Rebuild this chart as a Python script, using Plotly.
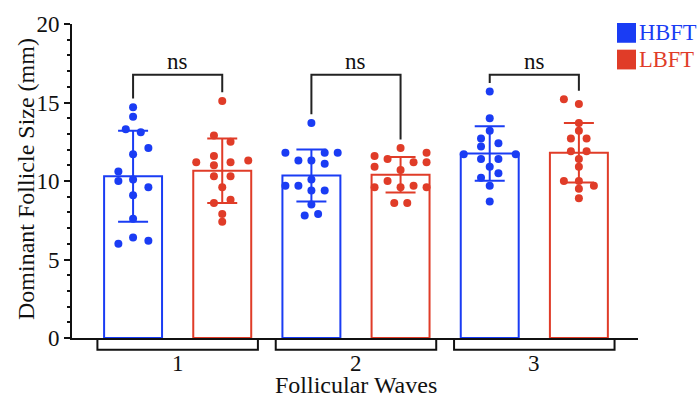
import numpy as np
import plotly.graph_objects as go

# ---------------- data ----------------
waves = ["1", "2", "3"]
groups = ["HBFT", "LBFT"]

hbft_mean = [10.3, 10.35, 11.75]
hbft_sd = [2.9, 1.65, 1.74]
lbft_mean = [10.65, 10.4, 11.8]
lbft_sd = [2.05, 1.13, 1.9]

hbft_w1 = [14.7, 14.1, 13.3, 13.1, 12.1, 11.7, 10.6, 10.0, 10.1, 9.6, 9.1, 7.6, 6.4, 6.0, 6.2]
lbft_w1 = [15.1, 12.9, 12.5, 11.6, 11.2, 11.0, 11.2, 11.3, 10.3, 10.3, 9.6, 8.6, 8.8, 7.9, 7.4]
hbft_w2 = [13.7, 11.8, 11.8, 11.8, 11.3, 11.3, 11.1, 10.1, 9.7, 9.7, 9.4, 9.4, 8.5, 7.8, 7.9]
lbft_w2 = [12.1, 11.6, 11.4, 11.8, 11.2, 11.2, 10.9, 10.7, 10.0, 9.7, 9.6, 9.6, 9.6, 8.6, 8.6]
hbft_w3 = [15.7, 14.0, 13.2, 12.7, 12.4, 12.2, 11.7, 11.7, 11.4, 11.4, 10.9, 10.5, 10.2, 9.7, 8.7]
lbft_w3 = [15.2, 14.9, 13.7, 13.2, 12.7, 12.7, 11.9, 11.9, 11.4, 10.9, 10.0, 10.0, 9.7, 9.5, 8.9]

sig_labels = ["ns", "ns", "ns"]

# ---------------- layout helpers (swarm offsets in px) ----------------
hbft_jit = [
    [0, 0, -7.3, 7.7, 15.3, 0, -14.7, -14.7, 0, 15.3, 0, 0, 0, -14.7, 15.3],
    [0, -26, 13.3, 26.3, -13, 0, 13.3, 0, -26, -13, 0, 13.3, 0, -6.7, 6.7],
    [0, 0, 0, -8.7, 8.7, -8.7, -26, 26, -8.7, 8.7, 0, 8.7, -8.7, 0, 0],
]
lbft_jit = [
    [0, -8.3, 8.3, -8.3, -26, -8.3, 8.3, 26, -8.3, 8.3, 0, -8.3, 8.3, 0, 0],
    [0, -26, -13, 26, 13, 26, -26, 0, -13, 13, -26, 0, 26, -6.3, 6.7],
    [-15, 0, 0, 0, -8, 7.7, -8, 7.7, 0, 0, -15, 0, 15, 0, 0],
]

BLUE = "#1a3cf4"
RED = "#e03c28"
INK = "#111111"
FONT = "Liberation Serif"
W, H = 699, 395
ML, MR, MT, MB = 72, 61, 20, 57
XMIN, XMAX = -0.685, 5.663
PX_PER_UNIT = (W - ML - MR) / (XMAX - XMIN)

hb_pts = [hbft_w1, hbft_w2, hbft_w3]
lb_pts = [lbft_w1, lbft_w2, lbft_w3]
hb_x = [2 * i for i in range(len(waves))]
lb_x = [2 * i + 1 for i in range(len(waves))]

fig = go.Figure()

for xs, means, sds, col, name in [
    (hb_x, hbft_mean, hbft_sd, BLUE, groups[0]),
    (lb_x, lbft_mean, lbft_sd, RED, groups[1]),
]:
    fig.add_trace(go.Bar(
        x=xs, y=means, width=0.65, name=name,
        marker=dict(color="rgba(255,255,255,0)", line=dict(color=col, width=2)),
        error_y=dict(type="data", array=sds, visible=True, color=col, thickness=2, width=15),
        showlegend=False,
    ))

for xs, pts, jits, col in [(hb_x, hb_pts, hbft_jit, BLUE), (lb_x, lb_pts, lbft_jit, RED)]:
    for xc, vals, jit in zip(xs, pts, jits):
        fig.add_trace(go.Scatter(
            x=[xc + j / PX_PER_UNIT for j in jit], y=vals, mode="markers",
            marker=dict(color=col, size=8, line=dict(width=0)),
            showlegend=False, hoverinfo="y",
        ))

shapes = []
annotations = []

# significance brackets
BR_Y = 16.76
for i in range(len(waves)):
    x0, x1 = hb_x[i], lb_x[i]
    y0 = max(hb_pts[i]) + 0.55
    y1 = max(lb_pts[i]) + 0.55
    shapes.append(dict(type="path", xref="x", yref="y",
                       path=f"M {x0},{y0} L {x0},{BR_Y} L {x1},{BR_Y} L {x1},{y1}",
                       line=dict(color="#222222", width=2)))
    annotations.append(dict(x=(x0 + x1) / 2, y=17.64, xref="x", yref="y", text=sig_labels[i],
                            showarrow=False, yanchor="middle",
                            font=dict(family=FONT, size=23, color=INK)))

# group brackets below the x axis
plot_h = H - MT - MB
def xp(v):
    return (v - XMIN) / (XMAX - XMIN)
for i, lab in enumerate(waves):
    c = (hb_x[i] + lb_x[i]) / 2
    a, b = xp(c - 0.9), xp(c + 0.9)
    yb = -12 / plot_h
    shapes.append(dict(type="path", xref="paper", yref="paper",
                       path=f"M {a},0 L {a},{yb} L {b},{yb} L {b},0",
                       line=dict(color=INK, width=2)))
    annotations.append(dict(x=c, y=-26 / plot_h, xref="x", yref="paper", text=lab,
                            showarrow=False, yanchor="middle",
                            font=dict(family=FONT, size=23, color=INK)))

annotations.append(dict(x=(sum(hb_x) + sum(lb_x)) / 6, y=-48 / plot_h, xref="x", yref="paper",
                        text="Follicular Waves", showarrow=False, yanchor="middle",
                        font=dict(family=FONT, size=24, color=INK)))
annotations.append(dict(x=(26 - ML) / (W - ML - MR), y=(MT + plot_h - 177) / plot_h,
                        xref="paper", yref="paper", text="Dominant Follicle Size (mm)",
                        showarrow=False, textangle=-90, xanchor="center", yanchor="middle",
                        font=dict(family=FONT, size=24, color=INK)))

# legend
pw = W - ML - MR
for name, col, ytop in [(groups[0], BLUE, 19), (groups[1], RED, 46)]:
    shapes.append(dict(type="rect", xref="paper", yref="paper",
                       x0=(617 - ML) / pw, x1=(636 - ML) / pw,
                       y0=(MT + plot_h - ytop) / plot_h, y1=(MT + plot_h - ytop - 20) / plot_h,
                       fillcolor=col, line=dict(width=0)))
    annotations.append(dict(x=(637 - ML) / pw, y=(MT + plot_h - ytop - 10) / plot_h,
                            xref="paper", yref="paper", text=name, showarrow=False,
                            xanchor="left", yanchor="middle",
                            font=dict(family=FONT, size=22.5, color=col)))

fig.update_layout(
    width=W, height=H, margin=dict(l=ML, r=MR, t=MT, b=MB),
    paper_bgcolor="white", plot_bgcolor="white", barmode="overlay",
    shapes=shapes, annotations=annotations,
    font=dict(family=FONT, size=22, color=INK),
    xaxis=dict(range=[XMIN, XMAX], showgrid=False, zeroline=False, showline=True,
               linecolor=INK, linewidth=2, showticklabels=False, ticks=""),
    yaxis=dict(range=[0, 20], dtick=5, showgrid=False, zeroline=False, showline=True,
               linecolor=INK, linewidth=2, ticks="outside", ticklen=6, tickwidth=2,
               tickcolor=INK, tickfont=dict(family=FONT, size=23, color=INK),
               minor=dict(dtick=1, ticks="outside", ticklen=3.5, tickwidth=1.5, tickcolor=INK)),
)

fig.write_html("out.html", config={"displayModeBar": False},
               post_script="document.body.style.margin='0';document.body.style.overflow='hidden';")
